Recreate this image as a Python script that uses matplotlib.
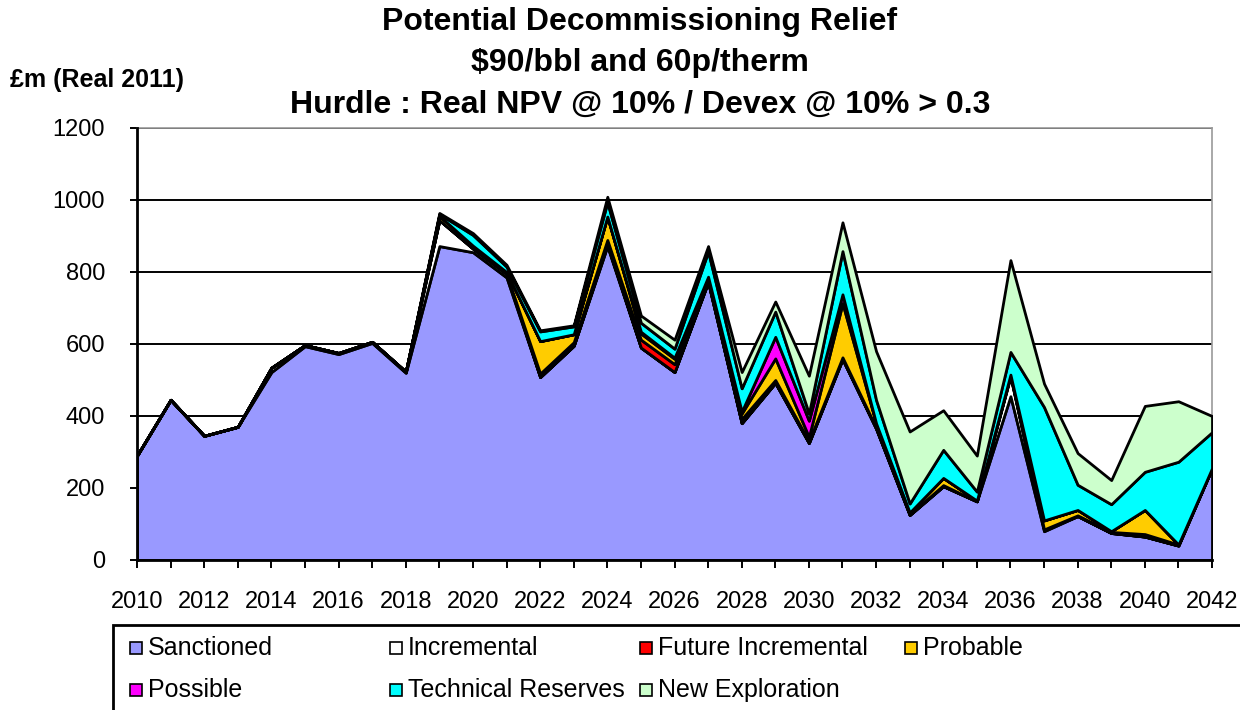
import matplotlib
matplotlib.use("Agg")
import matplotlib.pyplot as plt
from matplotlib.patches import Rectangle
from matplotlib.ticker import MultipleLocator

plt.rcParams['font.family'] = ['Liberation Sans', 'DejaVu Sans']

years = list(range(2010, 2043))
sanctioned = [290, 445, 345, 370, 522, 594, 572, 603, 520, 872, 855, 785, 508, 595, 872,
              590, 522, 772, 380, 492, 325, 558, 365, 125, 205, 163, 455, 80, 122, 75, 65, 40, 255]
incremental = [0, 0, 0, 0, 12, 3, 3, 3, 3, 72, 10, 10, 0, 0, 5,
               0, 0, 0, 0, 0, 0, 0, 0, 0, 0, 0, 55, 5, 0, 0, 0, 0, 0]
future_incremental = [0, 0, 0, 0, 0, 0, 0, 0, 0, 0, 0, 0, 10, 10, 12,
                      22, 22, 10, 12, 8, 5, 5, 3, 2, 3, 0, 3, 0, 2, 3, 7, 3, 0]
probable = [0, 0, 0, 0, 0, 0, 0, 0, 0, 12, 8, 5, 90, 22, 65,
            17, 15, 5, 15, 60, 12, 150, 12, 5, 20, 2, 2, 25, 15, 2, 67, 0, 0]
possible = [0, 0, 0, 0, 0, 0, 0, 0, 0, 0, 0, 0, 0, 0, 0,
            5, 3, 0, 5, 60, 45, 25, 0, 0, 0, 0, 0, 0, 0, 0, 0, 0, 0]
technical_reserves = [0, 0, 0, 0, 0, 0, 0, 0, 0, 5, 30, 15, 27, 22, 40,
                      25, 25, 70, 65, 70, 20, 120, 65, 25, 78, 25, 63, 315, 70, 75, 106, 230, 100]
new_exploration = [0, 0, 0, 0, 0, 0, 0, 0, 0, 3, 5, 5, 3, 3, 15,
                   20, 25, 15, 45, 28, 105, 80, 135, 200, 110, 100, 255, 65, 88, 67, 183, 168, 45]

labels = ["Sanctioned", "Incremental", "Future Incremental", "Probable",
          "Possible", "Technical Reserves", "New Exploration"]
colors = ["#9999FF", "#FFFFFF", "#FF0000", "#FFCC00", "#FF00FF", "#00FFFF", "#CCFFCC"]
series = [sanctioned, incremental, future_incremental, probable, possible,
          technical_reserves, new_exploration]

W, H = 1240, 710
fig = plt.figure(figsize=(W / 100, H / 100), dpi=100)
ax = fig.add_axes([137 / W, 1 - 560 / H, (1212 - 137) / W, (560 - 128) / H])

ax.stackplot(years, *series, colors=colors, edgecolor="black", linewidth=2.0, zorder=3)

ax.set_xlim(2010, 2042)
ax.set_ylim(0, 1200)
ax.yaxis.set_major_locator(MultipleLocator(200))
ax.xaxis.set_major_locator(MultipleLocator(2))
ax.xaxis.set_minor_locator(MultipleLocator(1))
ax.grid(axis="y", color="black", linewidth=1.4, zorder=1)
ax.set_axisbelow(True)
ax.tick_params(axis="x", which="both", direction="out", length=6, width=1.4,
               labelsize=17, pad=16)
ax.tick_params(axis="y", direction="out", length=5, width=1.4, labelsize=17, pad=18)
for s in ["left", "bottom"]:
    ax.spines[s].set_color("black")
    ax.spines[s].set_linewidth(2.0)
    ax.spines[s].set_zorder(5)
for s in ["top", "right"]:
    ax.spines[s].set_color("#999999")
    ax.spines[s].set_linewidth(1.2)

title_kw = dict(ha="center", va="center", fontsize=23, fontweight="bold")
fig.text(640 / W, 1 - 22 / H, "Potential Decommissioning Relief", **title_kw)
fig.text(640 / W, 1 - 63 / H, "$90/bbl and 60p/therm", **title_kw)
fig.text(640 / W, 1 - 105 / H, "Hurdle : Real NPV @ 10% / Devex @ 10% > 0.3", **title_kw)
fig.text(10 / W, 1 - 80 / H, "£m (Real 2011)", ha="left", va="center",
         fontsize=18, fontweight="bold")

# legend box
fig.patches.append(Rectangle((113 / W, -0.05), 1.2, (710 - 625) / H + 0.05,
                             transform=fig.transFigure, facecolor="white",
                             edgecolor="black", linewidth=2.0, clip_on=False))
col_x = [130, 390, 640, 905]
row_y = [648, 690]
for i, (lab, col) in enumerate(zip(labels, colors)):
    r, c = divmod(i, 4)
    x0, y0 = col_x[c], row_y[r]
    fig.patches.append(Rectangle((x0 / W, 1 - (y0 + 6) / H), 12 / W, 12 / H,
                                 transform=fig.transFigure, facecolor=col,
                                 edgecolor="black", linewidth=1.2))
    fig.text((x0 + 18) / W, 1 - y0 / H, lab, ha="left", va="center", fontsize=18)

fig.savefig("out.png", dpi=100)
